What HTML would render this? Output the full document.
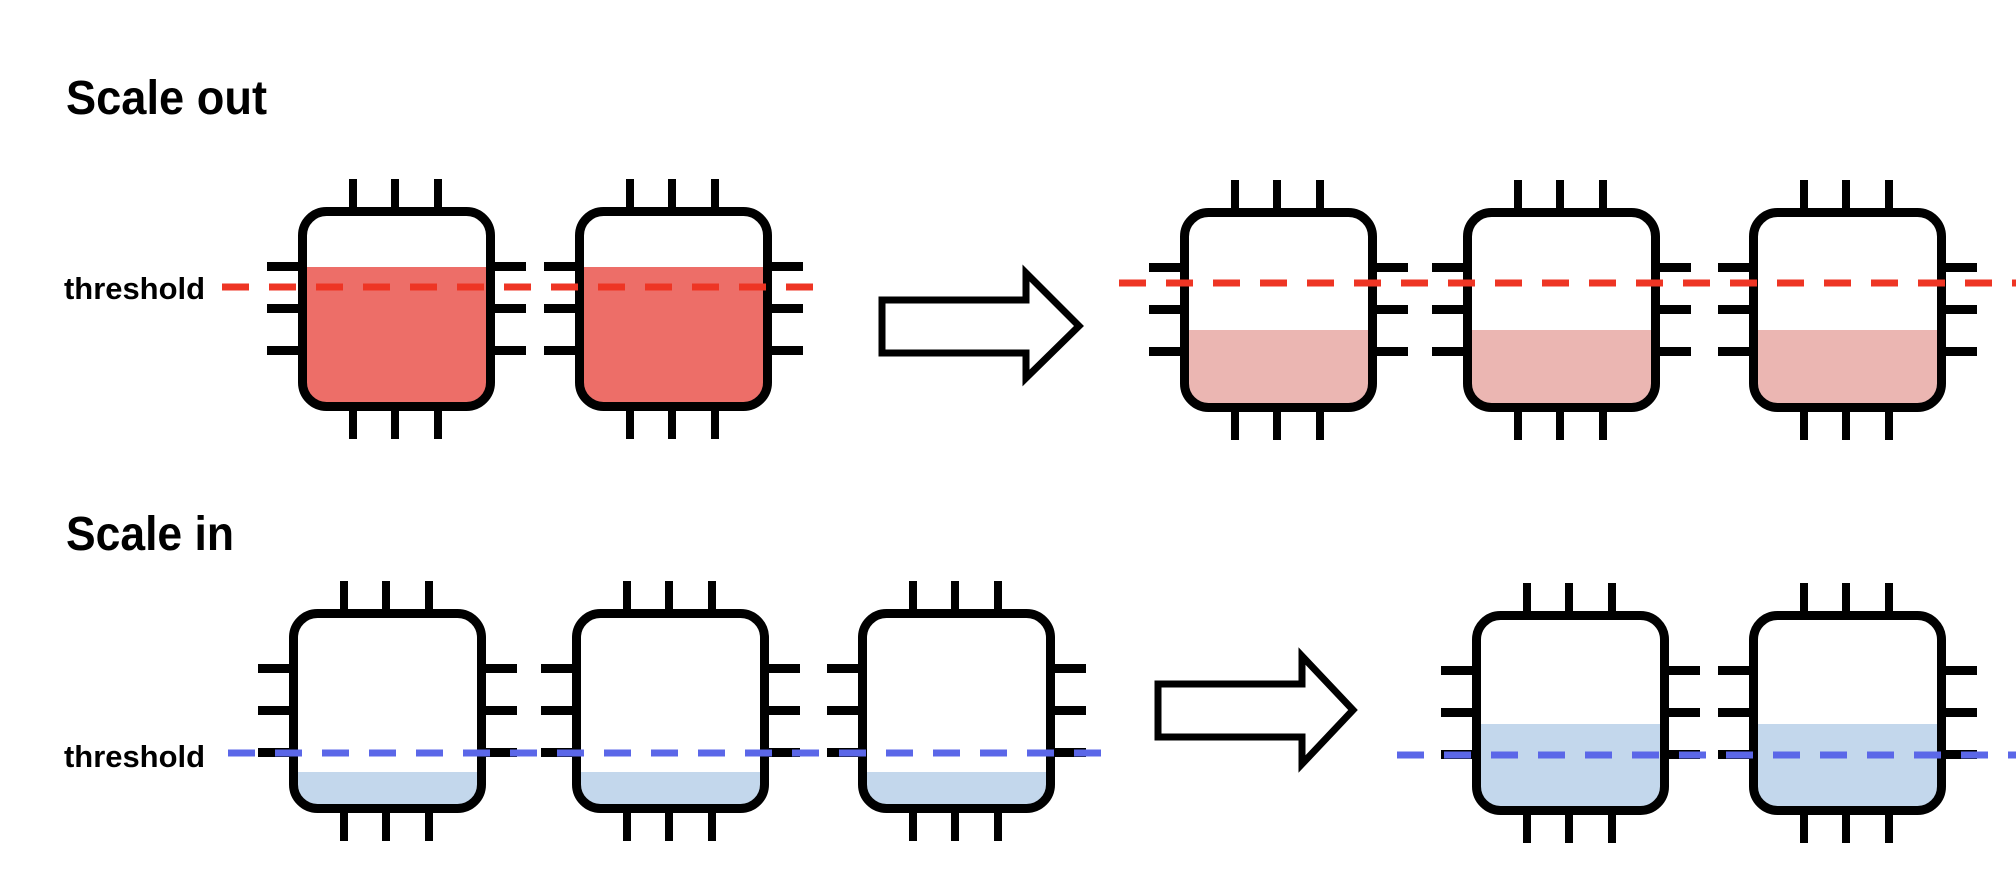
<!DOCTYPE html>
<html><head><meta charset="utf-8"><style>html,body{margin:0;padding:0;background:#fff;}svg{display:block}</style></head>
<body>
<svg width="2016" height="884" viewBox="0 0 2016 884" xmlns="http://www.w3.org/2000/svg">
<defs>
<g id="pins" fill="#000">
  <rect x="51" y="-28" width="8" height="30"/><rect x="93" y="-28" width="8" height="30"/><rect x="136" y="-28" width="8" height="30"/>
  <rect x="51" y="202" width="8" height="30"/><rect x="93" y="202" width="8" height="30"/><rect x="136" y="202" width="8" height="30"/>
  <rect x="-31" y="55" width="33" height="9"/><rect x="-31" y="97" width="33" height="9"/><rect x="-31" y="139" width="33" height="9"/>
  <rect x="195" y="55" width="33" height="9"/><rect x="195" y="97" width="33" height="9"/><rect x="195" y="139" width="33" height="9"/>
</g>
<g id="body"><rect x="4.5" y="4.5" width="188" height="195" rx="24" fill="none" stroke="#000" stroke-width="9"/></g>
</defs>

<text x="66" y="114" font-family="Liberation Sans, sans-serif" font-weight="bold" font-size="48" textLength="201" lengthAdjust="spacingAndGlyphs">Scale out</text>
<text x="64" y="299" font-family="Liberation Sans, sans-serif" font-weight="bold" font-size="31" textLength="141" lengthAdjust="spacingAndGlyphs">threshold</text>
<text x="66" y="550" font-family="Liberation Sans, sans-serif" font-weight="bold" font-size="48" textLength="168" lengthAdjust="spacingAndGlyphs">Scale in</text>
<text x="64" y="767" font-family="Liberation Sans, sans-serif" font-weight="bold" font-size="31" textLength="141" lengthAdjust="spacingAndGlyphs">threshold</text>

<!-- top left chips (full red) -->
<g transform="translate(298,207)">
  <use href="#pins"/>
  <path d="M9 60 H188 V177 Q188 195 170 195 H27 Q9 195 9 177 Z" fill="#ED6E68"/>
  <use href="#body"/>
</g>
<g transform="translate(575,207)">
  <use href="#pins"/>
  <path d="M9 60 H188 V177 Q188 195 170 195 H27 Q9 195 9 177 Z" fill="#ED6E68"/>
  <use href="#body"/>
</g>
<!-- top right chips -->
<g transform="translate(1180,208)">
  <use href="#pins"/>
  <path d="M9 122 H188 V177 Q188 195 170 195 H27 Q9 195 9 177 Z" fill="#EBB6B2"/>
  <use href="#body"/>
</g>
<g transform="translate(1463,208)">
  <use href="#pins"/>
  <path d="M9 122 H188 V177 Q188 195 170 195 H27 Q9 195 9 177 Z" fill="#EBB6B2"/>
  <use href="#body"/>
</g>
<g transform="translate(1749,208)">
  <use href="#pins"/>
  <path d="M9 122 H188 V177 Q188 195 170 195 H27 Q9 195 9 177 Z" fill="#EBB6B2"/>
  <use href="#body"/>
</g>

<!-- bottom left chips -->
<g transform="translate(289,609)">
  <use href="#pins"/>
  <path d="M9 163 H188 V177 Q188 195 170 195 H27 Q9 195 9 177 Z" fill="#C3D7EC"/>
  <use href="#body"/>
</g>
<g transform="translate(572,609)">
  <use href="#pins"/>
  <path d="M9 163 H188 V177 Q188 195 170 195 H27 Q9 195 9 177 Z" fill="#C3D7EC"/>
  <use href="#body"/>
</g>
<g transform="translate(858,609)">
  <use href="#pins"/>
  <path d="M9 163 H188 V177 Q188 195 170 195 H27 Q9 195 9 177 Z" fill="#C3D7EC"/>
  <use href="#body"/>
</g>
<!-- bottom right chips -->
<g transform="translate(1472,611)">
  <use href="#pins"/>
  <path d="M9 113 H188 V177 Q188 195 170 195 H27 Q9 195 9 177 Z" fill="#C3D7EC"/>
  <use href="#body"/>
</g>
<g transform="translate(1749,611)">
  <use href="#pins"/>
  <path d="M9 113 H188 V177 Q188 195 170 195 H27 Q9 195 9 177 Z" fill="#C3D7EC"/>
  <use href="#body"/>
</g>

<!-- arrows -->
<path d="M882 300 H1026 V273 L1079 326 L1026 378 V353 H882 Z" fill="#fff" stroke="#000" stroke-width="7" stroke-linejoin="miter"/>
<path d="M1158 684 H1302 V656 L1353 710 L1302 764 V737 H1158 Z" fill="#fff" stroke="#000" stroke-width="7" stroke-linejoin="miter"/>

<!-- threshold lines -->
<line x1="222" y1="287" x2="816" y2="287" stroke="#EE3524" stroke-width="7" stroke-dasharray="27 20"/>
<line x1="1119" y1="283" x2="2016" y2="283" stroke="#EE3524" stroke-width="7" stroke-dasharray="27 20"/>
<line x1="228" y1="753" x2="1103" y2="753" stroke="#5B67E8" stroke-width="7" stroke-dasharray="27 20"/>
<line x1="1397" y1="755" x2="2016" y2="755" stroke="#5B67E8" stroke-width="7" stroke-dasharray="27 20"/>
</svg>
</body></html>
